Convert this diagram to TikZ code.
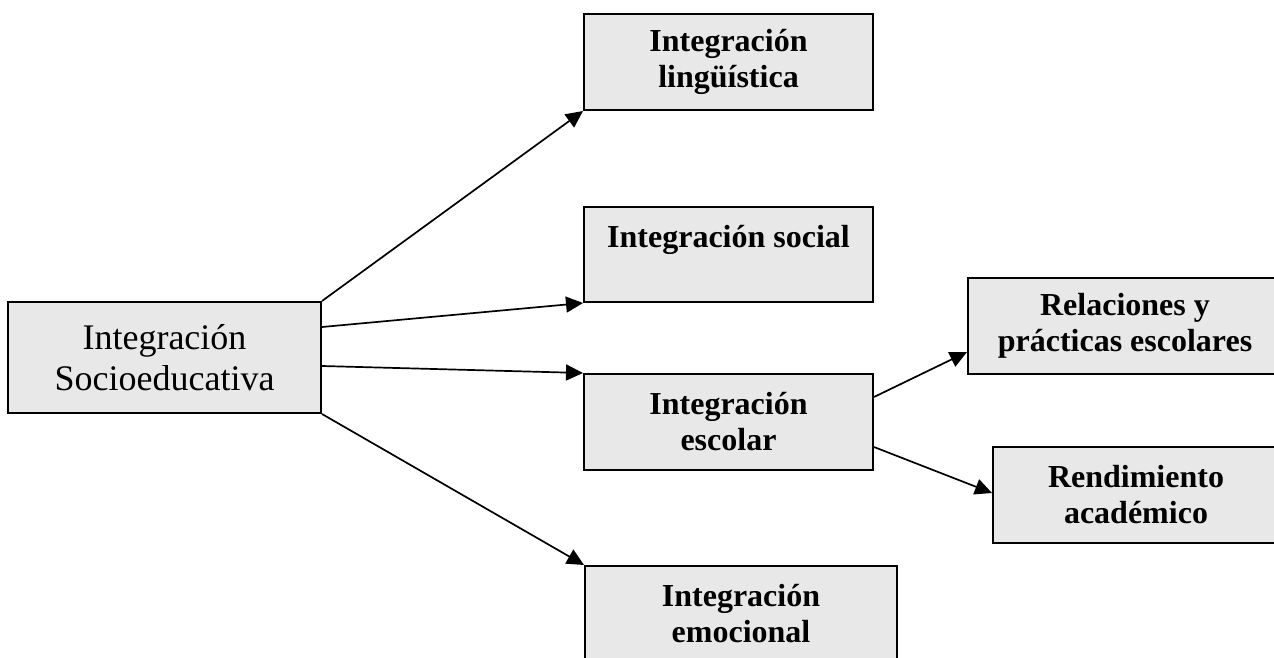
\documentclass[tikz,border=0pt]{standalone}
\usepackage{fontspec}
\setmainfont{Liberation Serif}
\usetikzlibrary{arrows.meta}
\definecolor{boxfill}{RGB}{232,232,232}
\tikzset{
  box/.style={draw=black, fill=boxfill, line width=1pt, inner sep=0pt,
    align=center, font=\fontsize{16pt}{18pt}\selectfont\bfseries},
  mainbox/.style={box, font=\fontsize{18pt}{20.5pt}\selectfont},
  link/.style={line width=0.85pt, -{Triangle[length=8.5pt,width=8pt]}}
}
\begin{document}
\begin{tikzpicture}[x=0.5pt,y=-0.5pt]
\useasboundingbox (0,0) rectangle (1274,658);
\clip (0,0) rectangle (1274,658);

% source box
\node[mainbox, minimum width=156.5pt, minimum height=55.5pt] (main) at (164.5,357.5)
  {Integración\\Socioeducativa};

% first-level components
\node[box, minimum width=144.5pt, minimum height=48pt] (ling) at (728.5,62)
  {Integración\\lingüística};
\node[box, minimum width=144.5pt, minimum height=47.5pt] (soc) at (728.5,254.5)
  {Integración social\\\phantom{I}};
\node[box, minimum width=144.5pt, minimum height=48pt] (esc) at (728.5,422)
  {Integración\\escolar};
\node[box, minimum width=156pt, minimum height=48pt] (emo) at (741,614)
  {Integración\\emocional};

% components of school integration
\node[box, minimum width=157pt, minimum height=48pt] (rel) at (1125,326)
  {Relaciones y\\prácticas escolares};
\node[box, minimum width=143pt, minimum height=48pt] (ren) at (1136,495)
  {Rendimiento\\académico};

% connectors
\draw[link] (main.north east) -- (ling.south west);
\draw[link] ([yshift=15.25pt]main.east) -- (soc.south west);
\draw[link] ([yshift=-4.25pt]main.east) -- (esc.north west);
\draw[link] (main.south east) -- (emo.north west);
\draw[link] ([yshift=12.5pt]esc.east) -- ([yshift=-13pt]rel.west);
\draw[link] ([yshift=-12.5pt]esc.east) -- ([yshift=1pt]ren.west);
\end{tikzpicture}
\end{document}
